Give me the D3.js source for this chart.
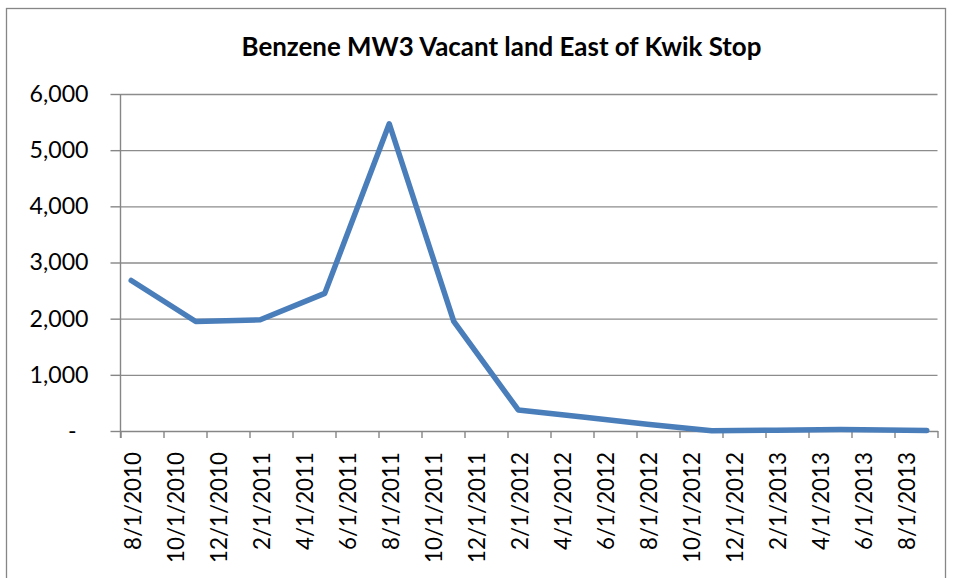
<!DOCTYPE html>
<html><head><meta charset="utf-8">
<script src="https://cdn.jsdelivr.net/npm/d3@7"></script>
<style>
body{margin:0;background:#fff;}
text{font-family:Lato,"Open Sans",sans-serif;fill:#000;}
</style>
</head><body><svg id="c" width="954" height="578"></svg>
<script>
const chartTitle = "Benzene MW3 Vacant land East of Kwik Stop";
const tickLabels = ["8/1/2010","10/1/2010","12/1/2010","2/1/2011","4/1/2011","6/1/2011","8/1/2011","10/1/2011","12/1/2011","2/1/2012","4/1/2012","6/1/2012","8/1/2012","10/1/2012","12/1/2012","2/1/2013","4/1/2013","6/1/2013","8/1/2013"];
const sampleMonths = ["2010-08","2010-11","2011-02","2011-05","2011-08","2011-11","2012-02","2012-05","2012-08","2012-11","2013-02","2013-05","2013-08","2013-09"];
const benzene = [2680,1950,1980,2450,5470,1950,375,250,120,5,15,25,15,10];
const yTickValues = [0,1000,2000,3000,4000,5000,6000];

const svg = d3.select("#c");
const plot = {left:120.5, right:937.5, top:94, bottom:431};
const startYear = 2010, startMonth = 8, nMonths = 38;
const monthIdx = s => { const [yy,mm] = s.split("-").map(Number); return (yy-startYear)*12 + (mm-startMonth); };

const x = d3.scaleLinear().domain([0,nMonths]).range([plot.left, plot.right]);
const y = d3.scaleLinear().domain([0,6000]).range([plot.bottom, plot.top]);

function fitSize(str, target, weight){
  const t = svg.append("text").attr("font-size",100).attr("font-weight",weight||"normal").text(str);
  const w = t.node().getComputedTextLength(); t.remove();
  return 100*target/w;
}
const axisFont = fitSize("6,000", 59);
const xFont = fitSize("8/1/2010", 98);
const titleFont = fitSize(chartTitle, 520, "bold");

// chart border
svg.append("rect").attr("x",6.5).attr("y",8.5).attr("width",939).attr("height",620)
  .attr("fill","#fff").attr("stroke","#868686").attr("stroke-width",1.3);

// title
svg.append("text").attr("x",501.5).attr("y",56).attr("text-anchor","middle")
  .attr("font-weight","bold").attr("font-size",titleFont).text(chartTitle);

// gridlines
const grid = svg.append("g").attr("transform",`translate(${plot.left},0)`)
  .call(d3.axisLeft(y).tickValues(yTickValues.slice(1)).tickSize(-(plot.right-plot.left)).tickFormat(""));
grid.select(".domain").remove();
grid.selectAll("line").attr("stroke","#8c8c8c").attr("stroke-width",1.4);

// y axis
const fmt = d3.format(",");
const yAxis = svg.append("g").attr("transform",`translate(${plot.left},0)`)
  .call(d3.axisLeft(y).tickValues(yTickValues).tickSize(10).tickSizeOuter(0).tickPadding(22)
    .tickFormat(d => d === 0 ? "-" : fmt(d)));
yAxis.select(".domain").attr("stroke","#868686").attr("stroke-width",1.4)
  .attr("d",`M0,${plot.top}V${plot.bottom+7}`);
yAxis.selectAll("line").attr("stroke","#868686").attr("stroke-width",1.4);
yAxis.selectAll("text").attr("font-size",axisFont).attr("font-family","Lato")
  .attr("dx", d => d === 0 ? -12 : 0);

// x axis: ticks every 2 months at bin boundaries
const xTicks = svg.append("g").attr("transform",`translate(0,${plot.bottom})`)
  .call(d3.axisBottom(x).tickValues(d3.range(0,nMonths+1,2)).tickSize(7).tickSizeOuter(0).tickFormat(""));
xTicks.select(".domain").attr("stroke","#868686").attr("stroke-width",1.4);
xTicks.selectAll("line").attr("stroke","#868686").attr("stroke-width",1.4);

// x labels centred on month bins
const xLab = svg.append("g").attr("transform",`translate(0,${plot.bottom})`)
  .call(d3.axisBottom(x).tickValues(tickLabels.map((_,i)=>2*i+0.5)).tickSize(0)
    .tickFormat((d,i)=>tickLabels[i]));
xLab.select(".domain").remove();
xLab.selectAll("text").attr("font-size",xFont).attr("font-family","Lato")
  .attr("transform","rotate(-90)").attr("text-anchor","end")
  .attr("x",-21).attr("y",0).attr("dy","0.42em");

// series line
const data = sampleMonths.map((m,i)=>({m, v: benzene[i]}));
const line = d3.line().x(d => x(monthIdx(d.m)+0.5)).y(d => y(d.v));
svg.append("path").datum(data).attr("d",line).attr("fill","none")
  .attr("stroke","#4a7ebb").attr("stroke-width",5.5)
  .attr("stroke-linejoin","round").attr("stroke-linecap","round");
</script>
</body></html>
